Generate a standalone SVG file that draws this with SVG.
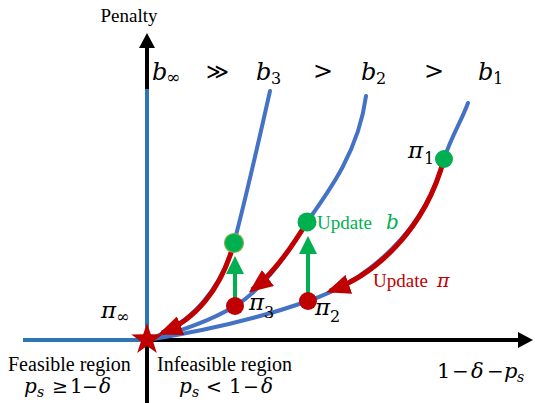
<svg xmlns="http://www.w3.org/2000/svg" width="535" height="403" viewBox="0 0 535 403">
<style>
.axis{stroke:#000;stroke-width:4;fill:none}
.ablue{stroke:#2E75B6;stroke-width:4;fill:none}
.curve{stroke:#4472C4;stroke-width:4;fill:none;stroke-linecap:round}
.red{stroke:#C00000;stroke-width:5;fill:none}
.garr{stroke:#00B050;stroke-width:4;fill:none}
.txt{font-family:"Liberation Serif","Times New Roman",serif;fill:#000}
.math{font-family:"DejaVu Serif","Liberation Serif",serif;font-style:italic;fill:#000}
.mathr{font-family:"DejaVu Serif","Liberation Serif",serif;fill:#000}
</style>
<defs>
<marker id="ah-red" markerUnits="userSpaceOnUse" markerWidth="26" markerHeight="20" viewBox="0 0 26 20" refX="20" refY="10" orient="auto">
<polygon points="0,0 24,10 0,20" fill="#C00000"/>
</marker>
<marker id="ah-green" markerUnits="userSpaceOnUse" markerWidth="20" markerHeight="20" viewBox="0 0 20 20" refX="2" refY="10" orient="auto">
<polygon points="0,1 18,10 0,19" fill="#00B050"/>
</marker>
<marker id="ah-black" markerUnits="userSpaceOnUse" markerWidth="16" markerHeight="16" viewBox="0 0 16 16" refX="2" refY="8" orient="auto">
<polygon points="0,0 15,8 0,16" fill="#000"/>
</marker>
</defs>

<g id="axes">
<line class="axis" x1="147" y1="403" x2="147" y2="46" marker-end="url(#ah-black)"/>
<line class="axis" x1="147" y1="340" x2="520" y2="340" marker-end="url(#ah-black)"/>
<line class="ablue" x1="147" y1="89" x2="147" y2="340"/>
<line class="ablue" x1="23" y1="340" x2="147" y2="340"/>
</g>

<g id="curves">
<path id="curve-b3" class="curve" d="M147,340 C190,325 221,290 234,243 C244,205 259,140 270,91"/>
<path id="curve-b2" class="curve" d="M147,340 C182,331 212,320 235,306 C265,288 290,250 307,222 C330,190 359,150 366,96"/>
<path id="curve-b1" class="curve" d="M147,340 C210,330 260,318 308,301 C370,280 425,230 444,159 C452,135 461,122 468,103"/>
</g>

<g id="connectors">
<path class="red" d="M234,243 C221,290 195,320 162,333" marker-end="url(#ah-red)"/>
<path class="red" d="M307,222 C292,247 272,275 252,290" marker-end="url(#ah-red)"/>
<path class="red" d="M444,159 C425,230 375,275 330,291" marker-end="url(#ah-red)"/>
<line class="garr" x1="235" y1="298" x2="235" y2="272" marker-end="url(#ah-green)"/>
<line class="garr" x1="308" y1="293" x2="308" y2="252" marker-end="url(#ah-green)"/>
</g>

<g id="pi-inf">
<polygon points="147,323 150.8,334.3 162.7,334.4 153.1,341.5 156.8,352.9 147,346 137.2,352.9 140.9,341.5 131.3,334.4 143.2,334.3" fill="#C00000"/>
<text class="math" x="101" y="318" font-size="23">π</text>
<text class="mathr" x="116" y="322" font-size="16">∞</text>
</g>

<g id="pi3">
<circle cx="235" cy="306" r="9" fill="#C00000"/>
<text class="math" x="249" y="310" font-size="23">π</text>
<text class="mathr" x="264" y="318" font-size="16">3</text>
</g>

<g id="pi2">
<circle cx="308" cy="301" r="9" fill="#C00000"/>
<text class="math" x="315" y="315" font-size="23">π</text>
<text class="mathr" x="330" y="322" font-size="16">2</text>
</g>

<g id="pi1">
<circle cx="444" cy="159" r="9" fill="#00B050"/>
<text class="math" x="408" y="158" font-size="23">π</text>
<text class="mathr" x="424" y="164" font-size="16">1</text>
</g>

<g id="b3-point">
<circle cx="234" cy="243" r="9.5" fill="#00B050" stroke="#84B04C" stroke-width="1.2"/>
</g>

<g id="b2-point">
<circle cx="307" cy="222" r="9.5" fill="#00B050"/>
</g>

<g id="labels">
<text class="txt" x="129" y="22" font-size="19" text-anchor="middle">Penalty</text>
<text class="math" x="152" y="80" font-size="24">b</text>
<text class="mathr" x="166" y="83" font-size="17">∞</text>
<text class="mathr" x="217" y="79" font-size="22" text-anchor="middle">≫</text>
<text class="math" x="256" y="80" font-size="24">b</text>
<text class="mathr" x="271" y="84" font-size="16">3</text>
<text class="mathr" x="323" y="79" font-size="24" text-anchor="middle">&gt;</text>
<text class="math" x="361" y="80" font-size="24">b</text>
<text class="mathr" x="376" y="84" font-size="16">2</text>
<text class="mathr" x="434" y="79" font-size="24" text-anchor="middle">&gt;</text>
<text class="math" x="478" y="80" font-size="24">b</text>
<text class="mathr" x="493" y="84" font-size="16">1</text>

<text class="txt" x="317" y="229" font-size="19" style="fill:#00B050">Update</text>
<text class="math" x="386" y="229" font-size="20" style="fill:#00B050">b</text>
<text class="txt" x="373" y="287" font-size="19" style="fill:#C00000">Update</text>
<text class="math" x="437" y="287" font-size="19" style="fill:#C00000">π</text>

<text class="txt" x="8" y="371" font-size="20">Feasible region</text>
<text class="txt" x="157" y="371" font-size="20">Infeasible region</text>

<text class="math" x="24" y="393" font-size="20">p</text>
<text class="math" x="37" y="397" font-size="14">s</text>
<text class="mathr" x="52" y="393" font-size="19">≥</text>
<text class="mathr" x="70" y="393" font-size="20">1</text>
<text class="mathr" x="82" y="393" font-size="19">−</text>
<text class="math" x="99" y="393" font-size="20">δ</text>

<text class="math" x="179" y="393" font-size="20">p</text>
<text class="math" x="192" y="397" font-size="14">s</text>
<text class="mathr" x="206" y="393" font-size="19">&lt;</text>
<text class="mathr" x="229" y="393" font-size="20">1</text>
<text class="mathr" x="243" y="393" font-size="19">−</text>
<text class="math" x="261" y="393" font-size="20">δ</text>

<text class="mathr" x="437" y="378" font-size="21">1</text>
<text class="mathr" x="452" y="378" font-size="20">−</text>
<text class="math" x="471" y="378" font-size="21">δ</text>
<text class="mathr" x="487" y="378" font-size="20">−</text>
<text class="math" x="504" y="378" font-size="21">p</text>
<text class="math" x="517" y="382" font-size="14">s</text>
</g>
</svg>
